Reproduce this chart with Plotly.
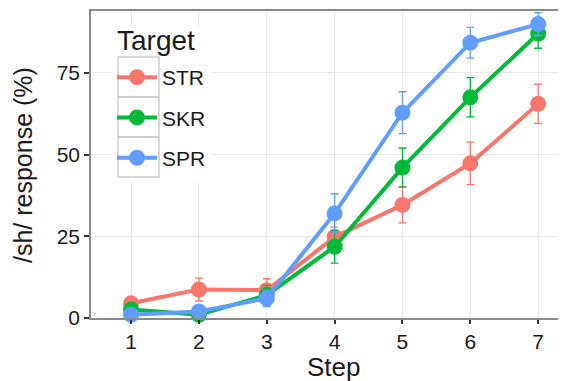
import plotly.graph_objects as go

steps = [1, 2, 3, 4, 5, 6, 7]
series_names = ["STR", "SKR", "SPR"]
str_vals = [4.5, 8.7, 8.5, 24.8, 34.6, 47.3, 65.5]
skr_vals = [2.6, 1.0, 7.0, 21.8, 46.0, 67.5, 87.0]
spr_vals = [1.0, 2.0, 6.0, 32.0, 62.8, 84.2, 89.9]
str_err = [1.5, 3.5, 3.5, 3.0, 5.5, 6.5, 6.0]
skr_err = [1.5, 1.0, 3.0, 5.0, 6.0, 6.0, 4.5]
spr_err = [1.0, 1.0, 2.5, 6.0, 6.4, 4.7, 3.5]
colors = ["#F8766D", "#00BA38", "#619CFF"]
y_ticks = [0, 25, 50, 75]
legend_title = "Target"
x_title = "Step"
y_title = "/sh/ response (%)"

fig = go.Figure()
for name, vals, errs, col in zip(series_names, [str_vals, skr_vals, spr_vals],
                                 [str_err, skr_err, spr_err], colors):
    fig.add_trace(go.Scatter(
        x=steps, y=vals, name=name, legendgroup=name,
        mode="lines+markers",
        line=dict(color=col, width=4),
        marker=dict(color=col, size=16),
        error_y=dict(type="data", array=errs, visible=True, color=col,
                     thickness=1.3, width=4),
        cliponaxis=False,
    ))

font_family = "Liberation Sans, Arial, sans-serif"
OFF = 8  # page body margin
# plot area in page pixels
PL, PT, PR, PB = 91, 11, 566, 318
W, H = 566 - OFF, 381 - OFF


def px_x(p):
    return (p - PL) / (PR - PL)


def px_y(p):
    return (PB - p) / (PB - PT)


shapes = [
    dict(type="rect", xref="paper", yref="paper", layer="above",
         x0=px_x(112), x1=px_x(212), y0=px_y(182), y1=px_y(27),
         fillcolor="white", line=dict(width=0)),
]
for i in range(3):
    shapes.append(dict(type="rect", xref="paper", yref="paper", layer="above",
                       x0=px_x(118), x1=px_x(159),
                       y0=px_y(57 + 40 * (i + 1)), y1=px_y(57 + 40 * i),
                       fillcolor="rgba(0,0,0,0)",
                       line=dict(color="#cccccc", width=1.5)))

annotations = [
    dict(text=legend_title, xref="paper", yref="paper",
         x=px_x(115), y=px_y(40), xanchor="left", yanchor="middle",
         showarrow=False, font=dict(size=28, color="#1a1a1a")),
    dict(text=x_title, xref="paper", yref="paper",
         x=px_x(334), y=px_y(367), xanchor="center", yanchor="middle",
         showarrow=False, font=dict(size=26, color="#1a1a1a")),
    dict(text=y_title, xref="paper", yref="paper", textangle=-90,
         x=px_x(23), y=px_y(165), xanchor="center", yanchor="middle",
         showarrow=False, font=dict(size=25, color="#1a1a1a")),
]

fig.update_layout(
    width=W, height=H,
    margin=dict(l=PL - OFF, r=0, t=PT - OFF, b=H - (PB - OFF)),
    paper_bgcolor="white", plot_bgcolor="white",
    font=dict(family=font_family, color="#1a1a1a"),
    showlegend=True,
    legend=dict(
        x=px_x(112), y=px_y(57), xanchor="left", yanchor="top",
        bgcolor="rgba(0,0,0,0)", borderwidth=0,
        font=dict(size=21, color="#1a1a1a"),
        itemwidth=40, tracegroupgap=10,
    ),
    shapes=shapes,
    annotations=annotations,
    xaxis=dict(
        range=[0.41, 7.41], tickvals=steps, ticktext=[str(s) for s in steps],
        showgrid=True, gridcolor="#e8e8e8", gridwidth=1,
        showline=True, linecolor="#8a8a8a", linewidth=1.5, mirror=True,
        ticks="outside", ticklen=4, tickwidth=1.5, tickcolor="#333333",
        tickfont=dict(size=21, color="#1a1a1a"),
        zeroline=False, automargin=False,
    ),
    yaxis=dict(
        range=[0, 93.9], tickvals=y_ticks, ticktext=[str(t) for t in y_ticks],
        showgrid=True, gridcolor="#e8e8e8", gridwidth=1,
        showline=True, linecolor="#8a8a8a", linewidth=1.5,
        ticks="outside", ticklen=5, tickwidth=1.5, tickcolor="#333333",
        tickfont=dict(size=21, color="#1a1a1a"),
        zeroline=False, automargin=False,
    ),
)

fig.write_html("out.html")
